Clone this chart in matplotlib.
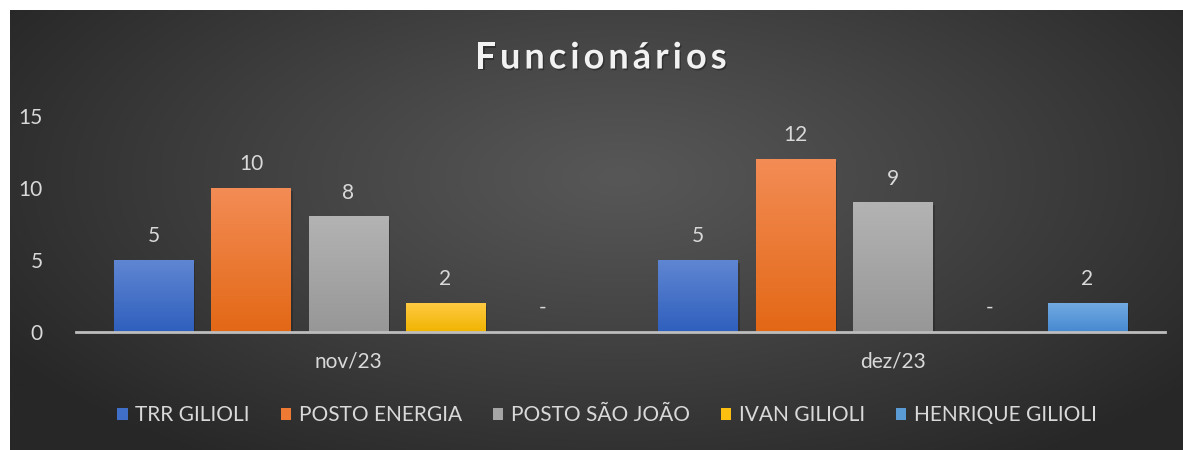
import numpy as np
import matplotlib
matplotlib.use("Agg")
import matplotlib.pyplot as plt
import matplotlib.patheffects as pe
from matplotlib.colors import LinearSegmentedColormap
from matplotlib.font_manager import FontProperties
from matplotlib.patches import Patch

# data
categories = ['nov/23', 'dez/23']
series = ['TRR GILIOLI', 'POSTO ENERGIA', 'POSTO SÃO JOÃO', 'IVAN GILIOLI', 'HENRIQUE GILIOLI']
trr = [5, 5]
energia = [10, 12]
sao_joao = [8, 9]
ivan = [2, 0]
henrique = [0, 2]
values = [trr, energia, sao_joao, ivan, henrique]
yticks = [0, 5, 10, 15]

# (top, bottom) gradient colours per series
grads = [('#5f86d2', '#2f5fbd'),
         ('#f38c55', '#e36816'),
         ('#b3b3b3', '#979797'),
         ('#ffca42', '#f0b400'),
         ('#72aae2', '#4689d0')]
mids = ['#3f6fc8', '#ee7a33', '#a5a5a5', '#fdc010', '#5b9bd5']

FONT = ['Lato', 'DejaVu Sans']
TXT = '#d9d9d9'
FS = 15
W, H = 1183, 450

fig = plt.figure(figsize=(W / 100, H / 100), dpi=100)
fig.patch.set_facecolor('white')

# radial dark background
bg = fig.add_axes([10 / W, 0, 1 - 10 / W, 1 - 10 / H])
bg.set_axis_off()
yy, xx = np.mgrid[0:1:300j, 0:1:700j]
r = np.sqrt(((xx - 0.52) / 0.62) ** 2 + ((yy - 0.62) / 0.78) ** 2)
r = np.clip(r, 0, 1)
c0, c1 = 0x57 / 255, 0x27 / 255
img = c0 + (c1 - c0) * r ** 1.1
bg.imshow(np.dstack([img] * 3), aspect='auto', extent=[0, 1, 0, 1], origin='lower')

ax = fig.add_axes([76 / W, (H - 332) / H, (1165 - 76) / W, 216 / H])
ax.patch.set_alpha(0)
for s in ['top', 'right', 'left']:
    ax.spines[s].set_visible(False)
ax.spines['bottom'].set_color('#bdbdbd')
ax.spines['bottom'].set_linewidth(2)
ax.spines['bottom'].set_zorder(5)

x = np.arange(len(categories))
bw = 0.146
step = 0.1787
for i, (name, vals) in enumerate(zip(series, values)):
    bars = ax.bar(x + (i - 2) * step, vals, bw, color=mids[i], zorder=2,
                  path_effects=[pe.SimplePatchShadow(offset=(1.5, -2), alpha=0.2, shadow_rgbFace='black'),
                                pe.Normal()])
    top, bot = grads[i]
    cmap = LinearSegmentedColormap.from_list('g%d' % i, [bot, top])
    for p in bars:
        h = p.get_height()
        if h <= 0:
            continue
        grad = np.linspace(0, 1, 100).reshape(-1, 1)
        ax.imshow(grad, cmap=cmap, aspect='auto', origin='lower', zorder=3,
                  extent=[p.get_x(), p.get_x() + p.get_width(), 0, h])
    ax.bar_label(bars, labels=['-' if v == 0 else str(v) for v in vals], padding=10,
                 color=TXT, fontsize=FS, family=FONT, zorder=6)

ax.set_xlim(-0.5, 1.5)
ax.set_ylim(0, 15)
ax.set_yticks(yticks)
ax.set_xticks(x)
ax.set_xticklabels(categories)
ax.tick_params(axis='y', length=0, pad=24, colors=TXT, labelsize=FS)
ax.tick_params(axis='x', length=0, pad=14, colors=TXT, labelsize=FS)
for lab in ax.get_yticklabels() + ax.get_xticklabels():
    lab.set_family(FONT)

# title with letter spacing
tprop = FontProperties(family=FONT, weight='bold', size=26)
title = 'Funcionários'
fig.canvas.draw()
rend = fig.canvas.get_renderer()
widths = [rend.get_text_width_height_descent(ch, tprop, ismath=False)[0] for ch in title]
target = 251
track = max(0, (target - sum(widths)) / (len(title) - 1))
xpos = 601 - (sum(widths) + track * (len(title) - 1)) / 2
for ch, w in zip(title, widths):
    fig.text(xpos / W, 1 - 58 / H, ch, fontproperties=tprop, color='#f2f2f2',
             ha='left', va='center',
             path_effects=[pe.withSimplePatchShadow(offset=(1, -1.2), alpha=0.3, shadow_rgbFace='black')])
    xpos += w + track

handles = [Patch(facecolor=c, edgecolor='none') for c in mids]
leg = fig.legend(handles, series, loc='center', bbox_to_anchor=(607 / W, 1 - 415 / H),
                 ncol=5, frameon=False, handlelength=0.5, handleheight=0.5,
                 handletextpad=0.35, columnspacing=1.5,
                 prop=FontProperties(family=FONT, size=FS))
for t in leg.get_texts():
    t.set_color(TXT)

fig.savefig('out.png', dpi=100, facecolor=fig.get_facecolor())
